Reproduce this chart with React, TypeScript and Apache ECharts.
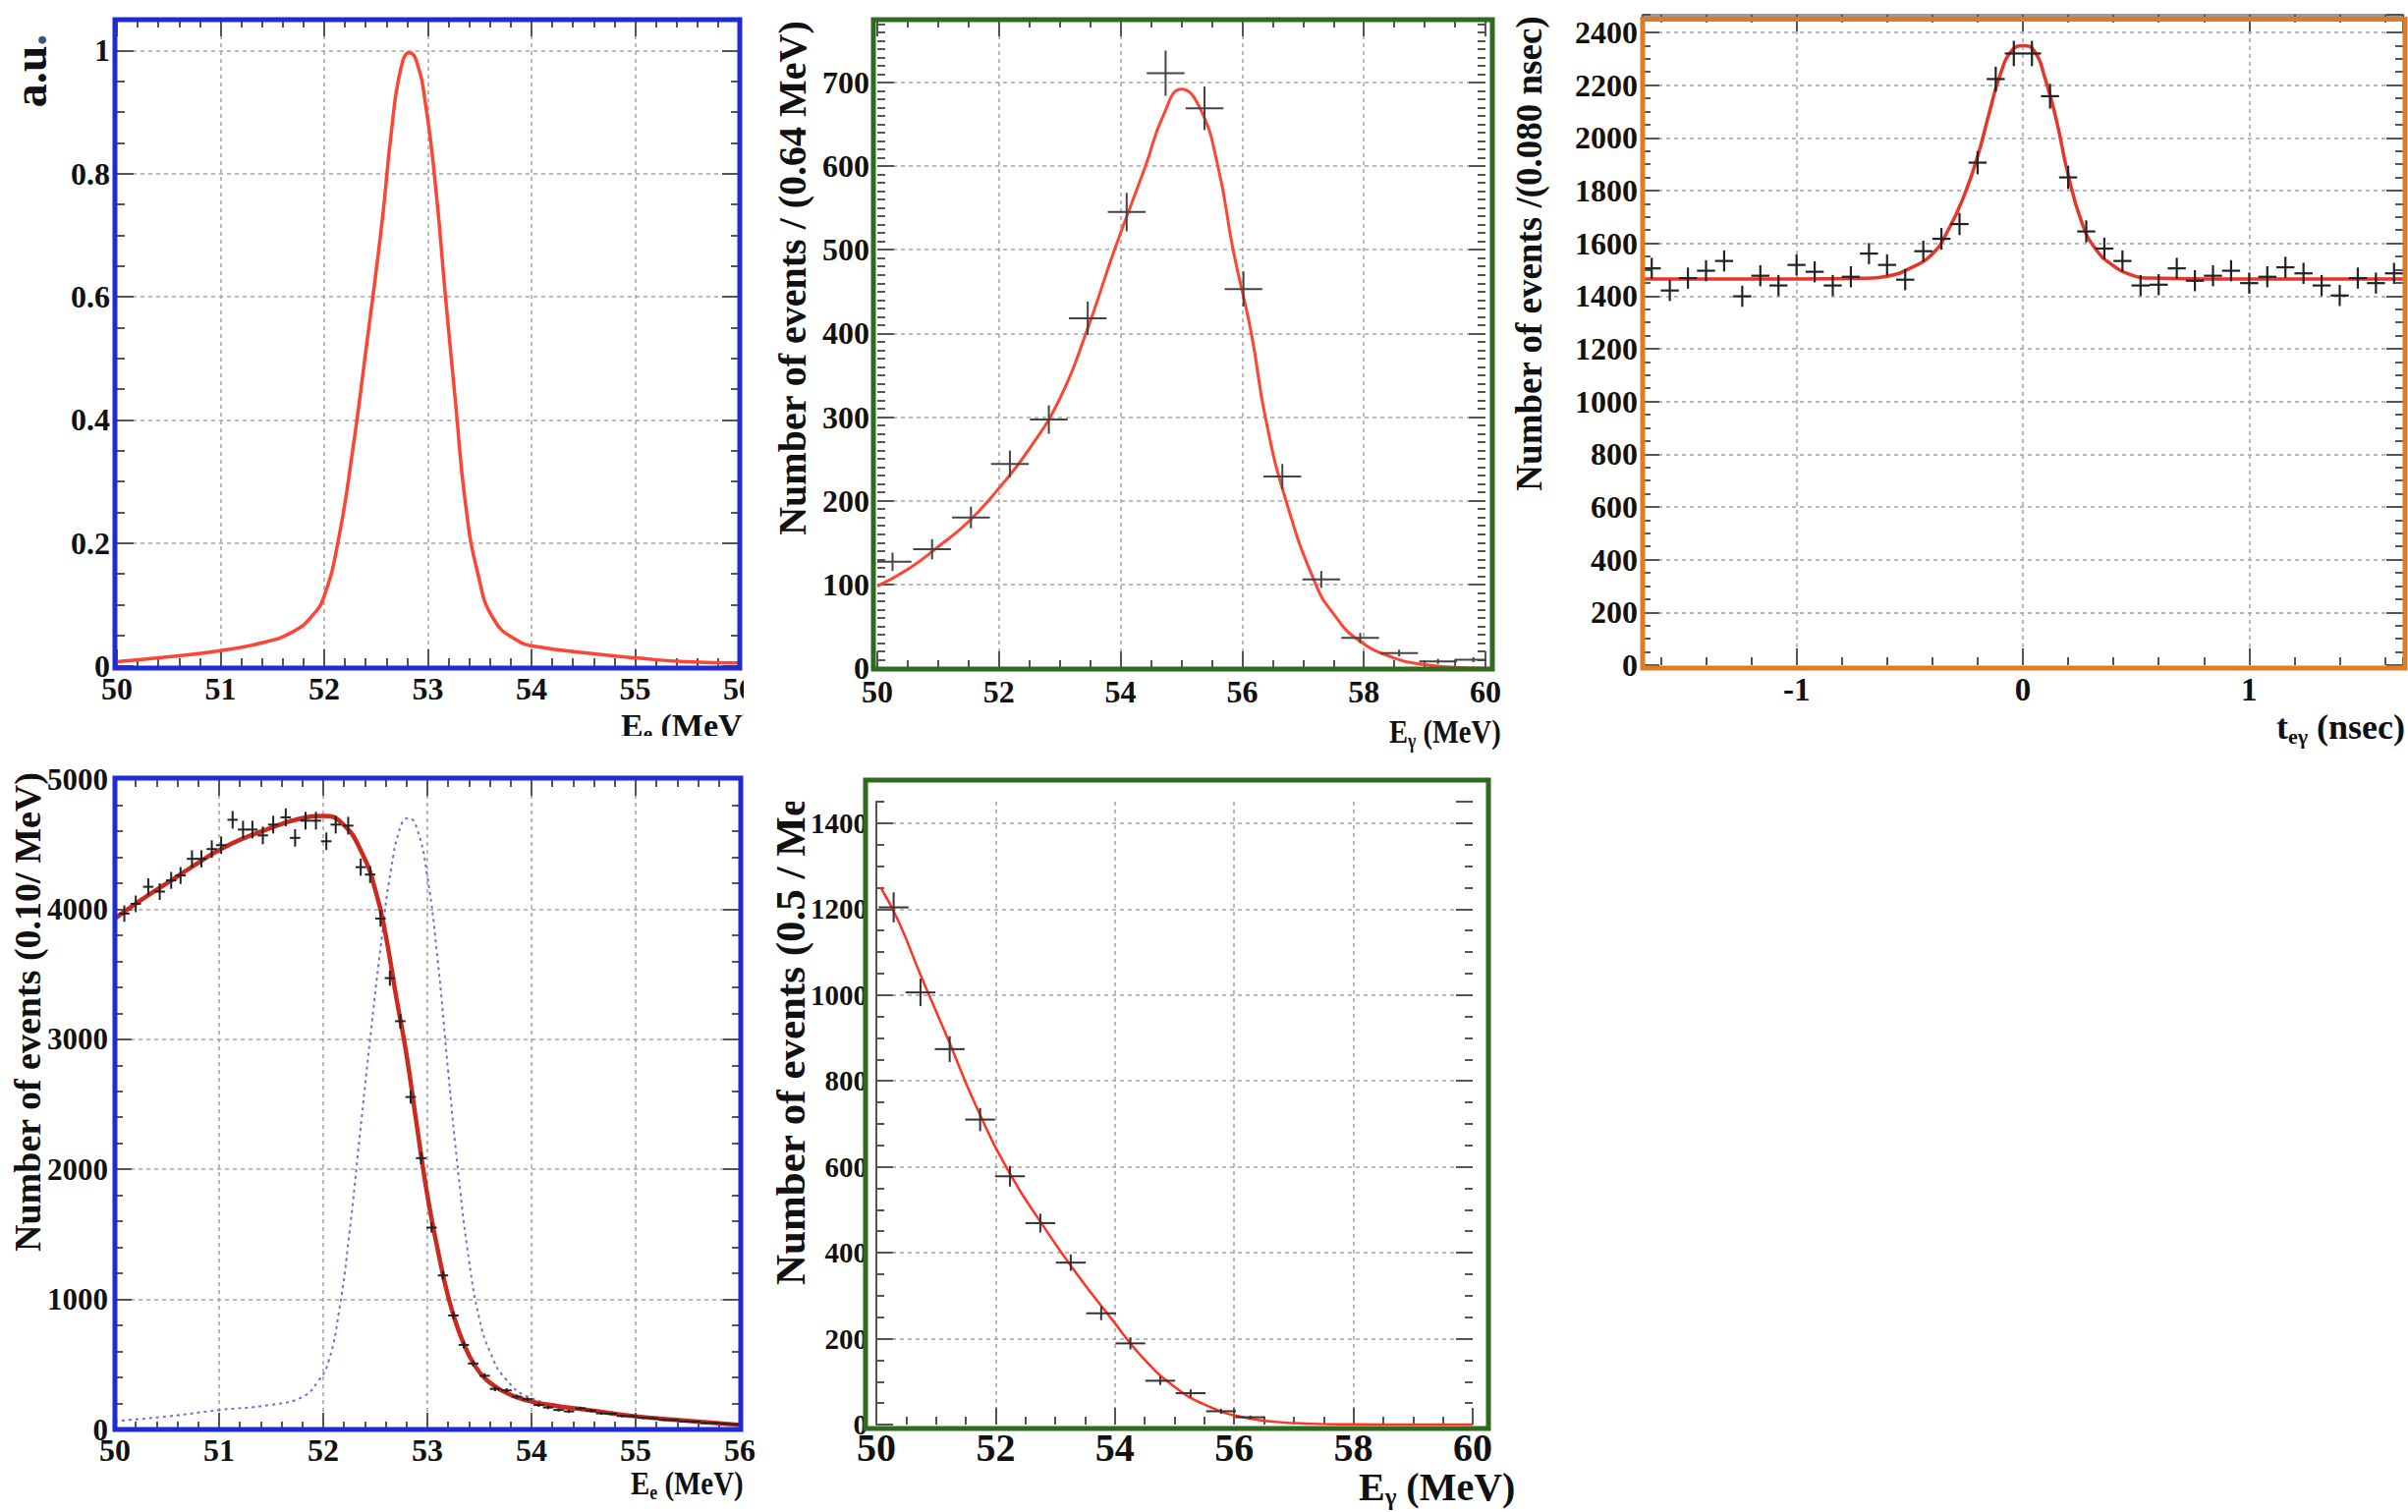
import React, { useEffect, useRef } from 'react';
import * as echarts from 'echarts';

const FONT = '"Liberation Serif", "Times New Roman", serif';
const TICK = '#555';
const GRIDC = '#a3a3a3';
const INK = '#111';

// ---------- Panel 1 : signal PDF (a.u.) vs E_e ----------
const p1FitX = [50, 50.5, 51, 51.4, 51.7, 51.89, 52.0, 52.13, 52.27, 52.41, 52.56, 52.65, 52.74, 52.82, 52.89, 52.98, 53.08, 53.17, 53.27, 53.36, 53.48, 53.64, 53.88, 54.04, 54.54, 55.03, 55.49, 56];
const p1FitY = [0.007, 0.015, 0.025, 0.038, 0.056, 0.083, 0.114, 0.199, 0.345, 0.523, 0.724, 0.871, 0.971, 0.996, 0.983, 0.91, 0.77, 0.6, 0.423, 0.268, 0.152, 0.075, 0.04, 0.032, 0.021, 0.013, 0.007, 0.005];

// ---------- Panel 2 : E_gamma, 0.64 MeV bins ----------
const p2X = [50.25, 50.9, 51.54, 52.18, 52.82, 53.46, 54.1, 54.74, 55.38, 56.02, 56.66, 57.3, 57.94, 58.58, 59.22, 59.8];
const p2Y = [127, 142, 180, 244, 297, 418, 545, 711, 669, 453, 229, 106, 36, 18, 8, 10];
const p2Err = [11, 12, 13, 16, 17, 20, 23, 27, 26, 21, 15, 10, 6, 4, 3, 3];
const p2HalfBin = 0.31;
const p2FitX = [50.0, 50.5, 51.0, 51.5, 52.0, 52.5, 53.0, 53.43, 53.9, 54.41, 54.7, 55.0, 55.3, 55.6, 55.85, 56.15, 56.38, 56.72, 57.21, 57.5, 57.9, 58.5, 59.0, 59.5, 60.0];
const p2FitY = [98, 118, 145, 175, 215, 262, 322, 400, 500, 600, 660, 692, 670, 600, 500, 400, 300, 200, 100, 65, 34, 12, 4, 1, 0];

// ---------- Panel 3 : t_egamma, 0.080 nsec bins ----------
const p3X = [-1.64, -1.56, -1.48, -1.40, -1.32, -1.24, -1.16, -1.08, -1.00, -0.92, -0.84, -0.76, -0.68, -0.60, -0.52, -0.44, -0.36, -0.28, -0.20, -0.12, -0.04, 0.04, 0.12, 0.20, 0.28, 0.36, 0.44, 0.52, 0.60, 0.68, 0.76, 0.84, 0.92, 1.00, 1.08, 1.16, 1.24, 1.32, 1.40, 1.48, 1.56, 1.64];
const p3Y = [1505, 1421, 1468, 1496, 1533, 1399, 1477, 1440, 1518, 1492, 1440, 1473, 1561, 1518, 1462, 1570, 1617, 1673, 1906, 2223, 2320, 2320, 2158, 1850, 1645, 1580, 1533, 1440, 1443, 1505, 1458, 1477, 1496, 1449, 1473, 1509, 1486, 1440, 1402, 1468, 1449, 1486];
const p3Err = [40, 40, 40, 40, 40, 40, 40, 40, 40, 40, 40, 40, 40, 40, 40, 40, 41, 42, 44, 47, 48, 48, 47, 44, 42, 41, 40, 40, 40, 40, 40, 40, 40, 40, 40, 40, 40, 40, 40, 40, 40, 40];
const p3HalfBin = 0.04;
const p3FitX = [-1.68, -1.0, -0.7, -0.6, -0.5, -0.4, -0.33, -0.26, -0.2, -0.15, -0.1, -0.05, 0, 0.05, 0.1, 0.15, 0.2, 0.26, 0.32, 0.4, 0.48, 0.56, 0.8, 1.68];
const p3FitY = [1465, 1465, 1467, 1475, 1505, 1560, 1650, 1780, 1930, 2090, 2240, 2330, 2350, 2330, 2220, 2060, 1860, 1680, 1580, 1515, 1480, 1468, 1465, 1465];

// ---------- Panel 4 : E_e, 0.10 MeV bins ----------
const p4X = [50.09, 50.2, 50.32, 50.43, 50.54, 50.63, 50.74, 50.83, 50.93, 51.02, 51.13, 51.23, 51.32, 51.42, 51.52, 51.64, 51.73, 51.83, 51.93, 52.03, 52.12, 52.24, 52.36, 52.45, 52.55, 52.64, 52.74, 52.84, 52.94, 53.04, 53.15, 53.25, 53.35, 53.44, 53.55, 53.65, 53.76, 53.86, 53.96, 54.07, 54.16, 54.26, 54.36, 54.47, 54.57, 54.67, 54.77, 54.87, 54.97, 55.07, 55.17, 55.27, 55.37, 55.47, 55.57, 55.67, 55.77, 55.87, 55.97];
const p4Y = [3966, 4041, 4172, 4135, 4221, 4259, 4387, 4387, 4462, 4492, 4687, 4612, 4612, 4567, 4650, 4706, 4548, 4680, 4680, 4522, 4650, 4642, 4323, 4266, 3928, 3470, 3139, 2556, 2086, 1552, 1184, 876, 650, 507, 413, 312, 300, 252, 233, 188, 169, 150, 139, 162, 145, 124, 121, 104, 102, 90, 86, 74, 72, 62, 60, 50, 49, 43, 40];
const p4Err = [63, 64, 65, 64, 65, 65, 66, 66, 67, 67, 68, 68, 68, 68, 68, 69, 67, 68, 68, 67, 68, 68, 66, 65, 63, 59, 56, 51, 46, 39, 34, 30, 26, 23, 20, 18, 17, 16, 15, 14, 13, 12, 12, 13, 12, 11, 11, 10, 10, 10, 9, 9, 9, 8, 8, 7, 7, 7, 6];
const p4HalfBin = 0.05;
const p4FitX = [50, 50.25, 50.5, 50.75, 51, 51.25, 51.5, 51.75, 52.0, 52.18, 52.37, 52.51, 52.6, 52.7, 52.8, 52.9, 53.0, 53.1, 53.2, 53.3, 53.4, 53.5, 53.6, 53.7, 53.85, 54.0, 54.25, 54.54, 55.0, 55.48, 55.95, 56];
const p4FitY = [3928, 4070, 4200, 4330, 4454, 4550, 4625, 4690, 4717, 4661, 4436, 4120, 3800, 3330, 2880, 2330, 1800, 1380, 1020, 760, 570, 440, 360, 305, 250, 214, 180, 150, 101, 68, 38, 36];
const p4SigX = [50.0, 50.5, 51.0, 51.5, 51.8, 51.95, 52.05, 52.15, 52.25, 52.35, 52.45, 52.55, 52.65, 52.75, 52.82, 52.9, 53.0, 53.1, 53.2, 53.3, 53.4, 53.5, 53.6, 53.75, 54.0, 54.5, 55.0, 55.5, 56.0];
const p4SigY = [65, 100, 150, 190, 250, 370, 520, 900, 1500, 2250, 3000, 3700, 4300, 4650, 4700, 4620, 4250, 3600, 2750, 1950, 1300, 850, 600, 390, 240, 150, 100, 65, 40];

// ---------- Panel 5 : E_gamma, 0.5 MeV bins ----------
const p5X = [50.29, 50.74, 51.23, 51.74, 52.24, 52.75, 53.26, 53.77, 54.26, 54.76, 55.27, 55.78, 56.27];
const p5Y = [1204, 1006, 874, 710, 578, 469, 377, 259, 189, 102, 73, 31, 17];
const p5Err = [35, 32, 30, 27, 24, 22, 19, 16, 14, 10, 9, 6, 4];
const p5HalfBin = 0.25;
const p5FitX = [50.07, 50.37, 50.74, 51.19, 51.67, 52.24, 52.81, 53.38, 53.95, 54.44, 55.01, 55.58, 56.15, 56.72, 57.28, 58.0, 59.0, 60.0];
const p5FitY = [1251, 1172, 1047, 901, 742, 584, 460, 347, 245, 160, 87, 42, 17, 6, 2, 0.5, 0, 0];

// ---------- helpers ----------
const pts = (xs: number[], ys: number[]) => xs.map((x, i) => [x, ys[i]]);
const crossData = (xs: number[], ys: number[], hw: number, es: number[]) => xs.map((x, i) => [x, ys[i], hw, es[i]]);

function crossRender(color: string, lw: number) {
  return (_p: any, api: any) => {
    const x = api.value(0), y = api.value(1), ex = api.value(2), ey = api.value(3);
    const l = api.coord([x - ex, y]);
    const r = api.coord([x + ex, y]);
    const b = api.coord([x, Math.max(0, y - ey)]);
    const t = api.coord([x, y + ey]);
    return {
      type: 'group',
      children: [
        { type: 'line', shape: { x1: l[0], y1: l[1], x2: r[0], y2: r[1] }, style: { stroke: color, lineWidth: lw } },
        { type: 'line', shape: { x1: b[0], y1: b[1], x2: t[0], y2: t[1] }, style: { stroke: color, lineWidth: lw } },
      ],
    };
  };
}

type AxSpec = {
  min: number; max: number; major: number; minor: number; fontSize: number; margin: number;
  hideMin?: boolean; hideMax?: boolean; mirror: boolean; safe: boolean; lineMain?: any; lineMirror?: any;
};

const MAJ = 17;
const MINL = 8;

function stepOpts(step: number, safe: boolean) {
  return safe ? { interval: step } : { minInterval: step, maxInterval: step };
}

function pushAxes(list: any[], dim: 'x' | 'y', gi: number, s: AxSpec) {
  const pos = dim === 'x' ? ['bottom', 'top'] : ['left', 'right'];
  const base = { type: 'value', gridIndex: gi, min: s.min, max: s.max, scale: false, silent: true };
  const tickStyle = { color: TICK, width: 2 };
  const main = list.length;
  list.push({
    ...base, ...stepOpts(s.major, s.safe), position: pos[0],
    axisLine: s.lineMain ? { show: true, onZero: false, lineStyle: s.lineMain } : { show: false, onZero: false },
    axisTick: { show: true, inside: true, length: MAJ, lineStyle: tickStyle },
    axisLabel: {
      show: true, fontFamily: FONT, fontWeight: 'bold', fontSize: s.fontSize, color: INK, margin: s.margin,
      showMinLabel: !s.hideMin, showMaxLabel: !s.hideMax,
      formatter: (v: number) => String(v),
    },
    splitLine: { show: true, showMinLine: false, showMaxLine: false, lineStyle: { color: GRIDC, type: [4, 4], width: 1.5 } },
  });
  list.push({
    ...base, ...stepOpts(s.minor, s.safe), position: pos[0],
    axisLine: { show: false, onZero: false },
    axisTick: { show: true, inside: true, length: MINL, lineStyle: tickStyle },
    axisLabel: { show: false }, splitLine: { show: false },
  });
  if (s.mirror) {
    list.push({
      ...base, ...stepOpts(s.major, s.safe), position: pos[1],
      axisLine: s.lineMirror ? { show: true, onZero: false, lineStyle: s.lineMirror } : { show: false, onZero: false },
      axisTick: { show: true, inside: true, length: MAJ, lineStyle: tickStyle },
      axisLabel: { show: false }, splitLine: { show: false },
    });
    list.push({
      ...base, ...stepOpts(s.minor, s.safe), position: pos[1],
      axisLine: { show: false, onZero: false },
      axisTick: { show: true, inside: true, length: MINL, lineStyle: tickStyle },
      axisLabel: { show: false }, splitLine: { show: false },
    });
  }
  return main;
}

function subTitle(x: number, y: number, main: string, sub: string, rest: string, fs: number, sx: number = 1) {
  const mainStyle = { fontSize: fs, fontWeight: 'bold', fontFamily: FONT, fill: INK, color: INK, lineHeight: Math.round(fs * 1.15) };
  const subStyle = { fontSize: Math.round(fs * 0.62), fontWeight: 'bold', fontFamily: FONT, fill: INK, color: INK, lineHeight: Math.round(fs * 0.55), verticalAlign: 'bottom' };
  return {
    type: 'text', x, y, z: 100, scaleX: sx,
    style: {
      text: `{m|${main}}{s|${sub}}{m|${rest}}`,
      rich: { m: mainStyle, s: subStyle },
      font: `bold ${fs}px ${FONT}`,
      align: 'left', verticalAlign: 'middle', textAlign: 'left', textVerticalAlign: 'middle',
    },
  };
}

function vTitle(x: number, y: number, text: string, fs: number, align: string = 'center') {
  return {
    type: 'text', x, y, rotation: Math.PI / 2, z: 100,
    style: {
      text, fontSize: fs, fontWeight: 'bold', fontFamily: FONT, fill: INK,
      align, verticalAlign: 'middle', textAlign: align, textVerticalAlign: 'middle',
    },
  };
}

function frame(x: number, y: number, w: number, h: number, color: string) {
  return { type: 'rect', z: 110, shape: { x, y, width: w, height: h }, style: { fill: 'none', stroke: color, lineWidth: 5 } };
}

function cover(x: number, y: number, w: number, h: number) {
  return { type: 'rect', z: 105, shape: { x, y, width: w, height: h }, style: { fill: '#fff', stroke: 'none' } };
}

function buildOption() {
  const grids = [
    { left: 119, top: 20, width: 633, height: 658 },
    { left: 893, top: 20, width: 619, height: 660 },
    { left: 1672, top: 15, width: 774, height: 662 },
    { left: 117, top: 793, width: 636, height: 662 },
    { left: 892, top: 816, width: 607, height: 634 },
  ];
  const xAxes: any[] = [];
  const yAxes: any[] = [];

  const x1 = pushAxes(xAxes, 'x', 0, { min: 50, max: 56, major: 1, minor: 0.2, fontSize: 32, margin: 7, mirror: true, safe: true });
  const y1 = pushAxes(yAxes, 'y', 0, { min: 0, max: 1.05, major: 0.2, minor: 0.05, fontSize: 32, margin: 7, hideMax: true, mirror: true, safe: true });

  const x2 = pushAxes(xAxes, 'x', 1, { min: 50, max: 60, major: 2, minor: 0.5, fontSize: 32, margin: 8, mirror: true, safe: true });
  const y2 = pushAxes(yAxes, 'y', 1, { min: 0, max: 775, major: 100, minor: 10, fontSize: 32, margin: 8, hideMax: true, mirror: true, safe: true });

  const x3 = pushAxes(xAxes, 'x', 2, { min: -1.68, max: 1.68, major: 1, minor: 0.2, fontSize: 33, margin: 8, hideMin: true, hideMax: true, mirror: true, safe: false, lineMirror: { color: '#999', width: 3 } });
  const y3 = pushAxes(yAxes, 'y', 2, { min: 0, max: 2467, major: 200, minor: 50, fontSize: 32, margin: 5, hideMax: true, mirror: true, safe: true });

  const x4 = pushAxes(xAxes, 'x', 3, { min: 50, max: 56, major: 1, minor: 0.2, fontSize: 32, margin: 5, mirror: true, safe: true });
  const y4 = pushAxes(yAxes, 'y', 3, { min: 0, max: 5000, major: 1000, minor: 200, fontSize: 31, margin: 7, mirror: true, safe: true });

  const x5 = pushAxes(xAxes, 'x', 4, { min: 50, max: 60, major: 2, minor: 0.5, fontSize: 40, margin: 3, mirror: false, safe: true });
  const y5 = pushAxes(yAxes, 'y', 4, { min: 0, max: 1450, major: 200, minor: 50, fontSize: 29, margin: 9, hideMax: true, mirror: true, safe: true, lineMain: { color: '#555', width: 2 } });

  const line = (xi: number, yi: number, xs: number[], ys: number[], color: string, width: number, type: any = 'solid') => ({
    type: 'line', xAxisIndex: xi, yAxisIndex: yi, data: pts(xs, ys), showSymbol: false, symbol: 'none',
    smooth: 0.5, lineStyle: { color, width, type }, z: 3, silent: true, clip: true,
  });
  const crosses = (xi: number, yi: number, xs: number[], ys: number[], hw: number, es: number[], color: string, lw: number) => ({
    type: 'custom', xAxisIndex: xi, yAxisIndex: yi, renderItem: crossRender(color, lw),
    data: crossData(xs, ys, hw, es), encode: { x: 0, y: 1 }, z: 5, silent: true, clip: true,
  });

  const series = [
    line(x1, y1, p1FitX, p1FitY, '#ff4433', 3.5),
    line(x2, y2, p2FitX, p2FitY, '#ff4433', 3),
    crosses(x2, y2, p2X, p2Y, p2HalfBin, p2Err, '#444', 2),
    line(x3, y3, p3FitX, p3FitY, '#e8352b', 3.5),
    crosses(x3, y3, p3X, p3Y, p3HalfBin, p3Err, '#222', 2.2),
    line(x4, y4, p4SigX, p4SigY, '#6f6fd8', 2, [3, 4]),
    line(x4, y4, p4FitX, p4FitY, '#cc2a1f', 4.5),
    crosses(x4, y4, p4X, p4Y, p4HalfBin, p4Err, '#222', 2),
    line(x5, y5, p5FitX, p5FitY, '#ff3322', 2.5),
    crosses(x5, y5, p5X, p5Y, p5HalfBin, p5Err, '#333', 2),
  ];

  const graphic = [
    // a.u. label
    {
      type: 'text', x: 30, y: 72, rotation: Math.PI / 2, z: 100,
      style: {
        text: '{b|a.u}{d|.}',
        rich: {
          b: { fontSize: 48, fontWeight: 'bold', fontFamily: FONT, fill: INK, color: INK },
          d: { fontSize: 48, fontWeight: 'bold', fontFamily: FONT, fill: '#3b5577', color: '#3b5577' },
        },
        font: `bold 48px ${FONT}`,
        align: 'center', verticalAlign: 'middle', textAlign: 'center', textVerticalAlign: 'middle',
      },
    },
    // x titles
    subTitle(632, 738, 'E', 'e', ' (MeV)', 34),
    subTitle(1414, 745, 'E', 'γ', ' (MeV)', 34, 0.84),
    subTitle(2317, 740, 't', 'eγ', ' (nsec)', 36),
    subTitle(642, 1510, 'E', 'e', ' (MeV)', 34, 0.85),
    subTitle(1383, 1513, 'E', 'γ', ' (MeV)', 40),
    // y titles
    vTitle(806, 283, 'Number of events / (0.64 MeV)', 40),
    vTitle(1556, 258, 'Number of events /(0.080 nsec)', 37),
    vTitle(28, 1030, 'Number of events (0.10/ MeV)', 38),
    vTitle(804, 1308, 'Number of events (0.5 / MeV)', 43, 'left'),
    // crops of the original figure
    cover(757, 684, 50, 100),
    cover(600, 749, 210, 40),
    cover(770, 735, 108, 81),
    // coloured frames
    frame(117, 20, 636, 660, '#1f2bd8'),
    frame(889, 20, 630, 661, '#2f6b1f'),
    frame(1672, 19.5, 776, 660.5, '#e07b22'),
    frame(117, 792, 637, 663, '#1f2bd8'),
    frame(881, 794, 634, 660, '#2f6b1f'),
  ];

  return {
    animation: false,
    backgroundColor: '#ffffff',
    grid: grids,
    xAxis: xAxes,
    yAxis: yAxes,
    series,
    graphic,
  };
}

export default function App() {
  const ref = useRef<HTMLDivElement>(null);
  useEffect(() => {
    document.body.style.margin = '0';
    document.body.style.overflow = 'hidden';
    const chart = echarts.init(ref.current as HTMLDivElement, null, { renderer: 'svg', width: 2451, height: 1539 });
    chart.setOption(buildOption() as any);
    return () => chart.dispose();
  }, []);
  return (
    <div
      ref={ref}
      style={{ position: 'absolute', left: 0, top: 0, width: 2451, height: 1539, background: '#fff' }}
    />
  );
}
